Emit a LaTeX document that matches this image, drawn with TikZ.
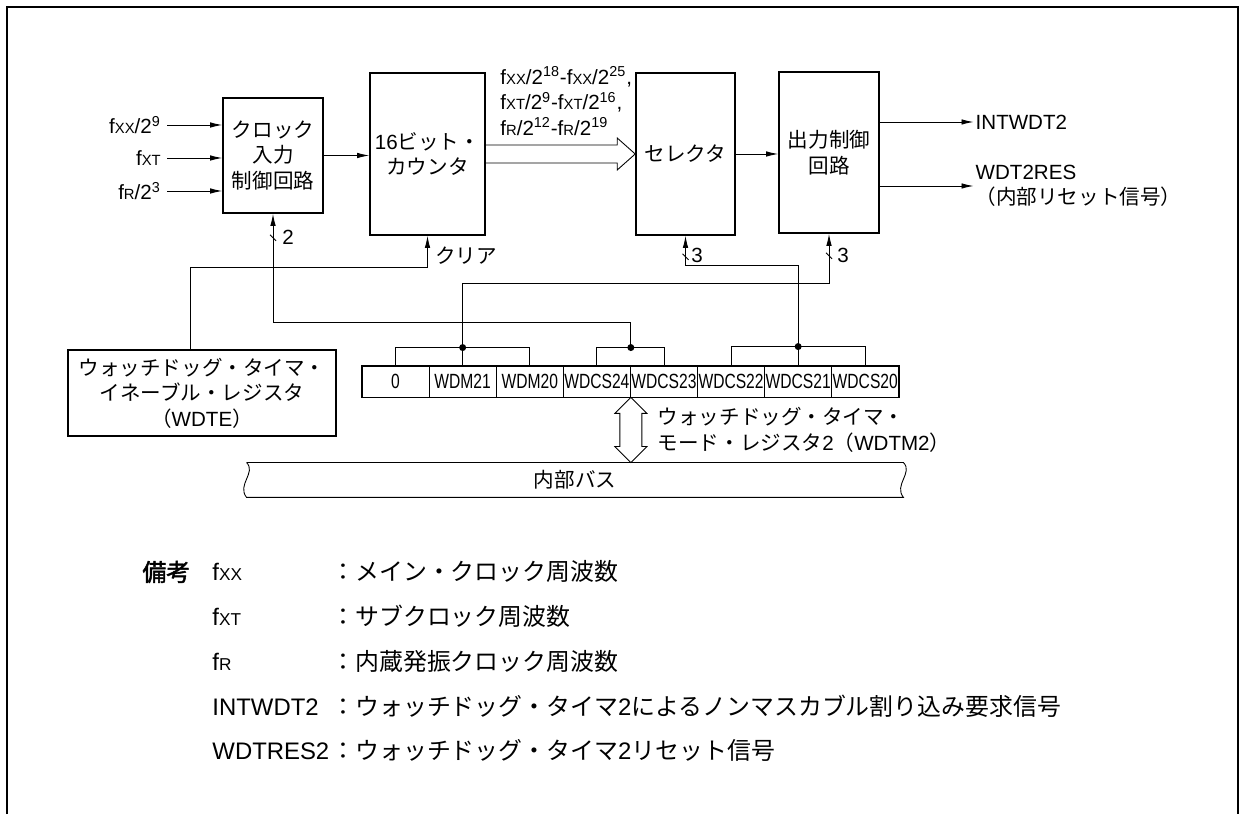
\documentclass[tikz,border=0pt]{standalone}
\usepackage{fontspec}
\usepackage{graphicx}
\setmainfont{Liberation Sans}
\newfontfamily\jp{Noto Sans CJK JP}
\newfontfamily\jpbold[FakeBold=2]{Noto Sans CJK JP}
\newfontfamily\narrowfont[FakeStretch=0.76]{Liberation Sans}
\usetikzlibrary{arrows.meta, calc}
\newcommand{\fsub}[1]{f{\scalebox{0.72}{#1}}}

\begin{document}
\begin{tikzpicture}[>={Latex[length=2.4mm,width=1.1mm]}, line width=0.5pt,
    block/.style={draw, line width=0.9pt, inner sep=2pt, align=center, font=\fontsize{11.7}{14.5}\selectfont},
    lbl/.style={align=left, font=\fontsize{11.7}{14.5}\selectfont},
    cell/.style={draw, minimum width=1.342cm, minimum height=0.62cm, inner sep=0pt, font=\narrowfont\fontsize{11.7}{13}\selectfont},
    note/.style={anchor=base west, inner sep=0pt, font=\fontsize{13.6}{16}\selectfont}]

    \useasboundingbox (0,0) rectangle (24.8,16.28);
    \draw[line width=1.1pt] (0.14,0) -- (0.14,16.14) -- (24.76,16.14) -- (24.76,0);

    \node[block, minimum width=2cm, minimum height=2.3cm] (ck) at (5.46,13.17) {{\jp クロック}\\{\jp 入力}\\{\jp 制御回路}};
    \node[block, minimum width=2.3cm, minimum height=3.24cm] (cnt) at (8.55,13.2) {16{\jp ビット・}\\{\jp カウンタ}};
    \node[block, minimum width=1.98cm, minimum height=3.24cm] (sel) at (13.71,13.2) {\jp セレクタ};
    \node[block, minimum width=2cm, minimum height=3.22cm] (outc) at (16.58,13.23) {{\jp 出力制御}\\{\jp 回路}};

    \node[lbl, anchor=east] (fxx) at (3.34,13.78) {\fsub{XX}/2\textsuperscript{9}};
    \node[lbl, anchor=east] (fxt) at (3.34,13.12) {\fsub{XT}};
    \node[lbl, anchor=east] (fr) at (3.34,12.46) {\fsub{R}/2\textsuperscript{3}};
    \draw[->] (fxx.east) -- (fxx.east -| ck.west);
    \draw[->] (fxt.east) -- (fxt.east -| ck.west);
    \draw[->] (fr.east) -- (fr.east -| ck.west);
    \draw[->] (ck.east) -- (ck.east -| cnt.west);

    \node[lbl, anchor=west, inner sep=0pt] (frq) at (10.0,14.26) {\fsub{XX}/2\textsuperscript{18}-\fsub{XX}/2\textsuperscript{25},\\\fsub{XT}/2\textsuperscript{9}-\fsub{XT}/2\textsuperscript{16},\\\fsub{R}/2\textsuperscript{12}-\fsub{R}/2\textsuperscript{19}};
    \draw ($(cnt.east)+(0,0.18)$) -- ($(cnt.east -| sel.west)+(-0.36,0.18)$) -- ++(0,0.14) -- (cnt.east -| sel.west) -- ++(-0.36,-0.32) -- ++(0,0.14) -- ($(cnt.east)+(0,-0.18)$);
    \draw[->] (sel.east) -- (sel.east -| outc.west);

    \node[lbl, anchor=west, inner sep=1pt] (intw) at (19.47,13.84) {INTWDT2};
    \node[lbl, anchor=west, inner sep=1pt] (wres) at (19.47,12.56) {WDT2RES\\{\jp （内部リセット信号）}};
    \draw[->] (outc.east |- intw.west) -- (intw.west);
    \draw[->] (outc.east |- wres.west) -- (wres.west);

    \node[lbl, anchor=west] (clr) at ($(cnt.south)+(0.03,-0.4)$) {\jp クリア};
    \node[lbl] (n2) at ($(ck.south)+(0.3,-0.48)$) {2};
    \node[lbl] (n3a) at ($(sel.south)+(0.23,-0.4)$) {3};
    \node[lbl] (n3b) at ($(outc.south)+(0.28,-0.44)$) {3};
    \draw ($(ck.south)+(-0.06,-0.42)$) -- ++(0.12,-0.12);
    \draw ($(sel.south)+(-0.06,-0.36)$) -- ++(0.12,-0.12);
    \draw ($(outc.south)+(-0.06,-0.38)$) -- ++(0.12,-0.12);

    \node[block, minimum width=5.36cm, minimum height=1.72cm] (wdte) at (4.04,8.42) {{\jp ウォッチドッグ・タイマ・}\\{\jp イネーブル・レジスタ}\\{\jp （}WDTE{\jp ）}};

    \node[cell] (b0) at (7.911,8.65) {0};
    \node[cell] (wdm21) at (9.253,8.65) {WDM21};
    \node[cell] (wdm20) at (10.595,8.65) {WDM20};
    \node[cell] (cs24) at (11.937,8.65) {WDCS24};
    \node[cell] (cs23) at (13.279,8.65) {WDCS23};
    \node[cell] (cs22) at (14.621,8.65) {WDCS22};
    \node[cell] (cs21) at (15.963,8.65) {WDCS21};
    \node[cell] (cs20) at (17.305,8.65) {WDCS20};
    \draw[line width=0.9pt] (b0.north west) rectangle (cs20.south east);

    \coordinate (dm) at ($(wdm21.north)+(0,0.36)$);
    \coordinate (dc) at ($(cs24.north east)+(0,0.36)$);
    \coordinate (ds) at ($(cs21.north)+(0,0.38)$);
    \draw (b0.north) |- (dm) -| (wdm20.north);
    \draw (wdm21.north) -- (dm);
    \draw (cs24.north) |- (dc) -| (cs23.north);
    \draw (cs22.north) |- (ds) -| (cs20.north);
    \draw (cs21.north) -- (ds);
    \fill (dm) circle (0.07);
    \fill (dc) circle (0.07);
    \fill (ds) circle (0.07);

    \draw[->] (dc) |- ($(ck.south)+(0,-2.18)$) -- (ck.south);
    \draw[->] (ds) |- ($(sel.south)+(0,-0.6)$) -- (sel.south);
    \draw[->] (dm) |- ($(outc.south)+(0,-1.0)$) -- (outc.south);
    \draw[->] ($(wdte.north)+(-0.24,0)$) |- ($(cnt.south)+(0,-0.64)$) -- (cnt.south);

    \node[minimum width=13.12cm, minimum height=0.68cm, inner sep=0pt, font=\fontsize{11.7}{14.5}\selectfont] (bus) at (11.5,6.68) {\jp 内部バス};
    \draw (bus.north west) -- (bus.north east) .. controls ($(bus.north east)+(0.2,-0.2)$) and ($(bus.south east)+(-0.2,0.25)$) .. (bus.south east) -- (bus.south west) .. controls ($(bus.south west)+(-0.2,0.25)$) and ($(bus.north west)+(0.2,-0.2)$) .. (bus.north west);
    \draw (cs24.south east) -- ++(0.32,-0.32) -- ++(-0.1,0) -- ($(cs24.south east |- bus.north)+(0.22,0.32)$) -- ++(0.1,0) -- (cs24.south east |- bus.north) -- ++(-0.32,0.32) -- ++(0.1,0) -- ($(cs24.south east)+(-0.22,-0.32)$) -- ++(-0.1,0) -- cycle;
    \node[lbl, anchor=west] (wdtm) at (13.03,7.68) {{\jp ウォッチドッグ・タイマ・}\\{\jp モード・レジスタ}2{\jp （}WDTM2{\jp ）}};

    \node[note] (bk) at (2.84,4.66) {\jpbold 備考};
    \node[note] (kfxx) at (4.24,4.66) {\fsub{XX}};
    \node[note] (kfxt) at (4.24,3.76) {\fsub{XT}};
    \node[note] (kfr) at (4.24,2.86) {\fsub{R}};
    \node[note] (kint) at (4.24,1.96) {INTWDT2};
    \node[note] (kres) at (4.24,1.10) {WDTRES2};
    \node[note] (tfxx) at (6.62,4.66) {\jp ：メイン・クロック周波数};
    \node[note] (tfxt) at (6.62,3.76) {\jp ：サブクロック周波数};
    \node[note] (tfr) at (6.62,2.86) {\jp ：内蔵発振クロック周波数};
    \node[note] (tint) at (6.62,1.96) {{\jp ：ウォッチドッグ・タイマ}2{\jp によるノンマスカブル割り込み要求信号}};
    \node[note] (tres) at (6.62,1.10) {{\jp ：ウォッチドッグ・タイマ}2{\jp リセット信号}};
\end{tikzpicture}
\end{document}
